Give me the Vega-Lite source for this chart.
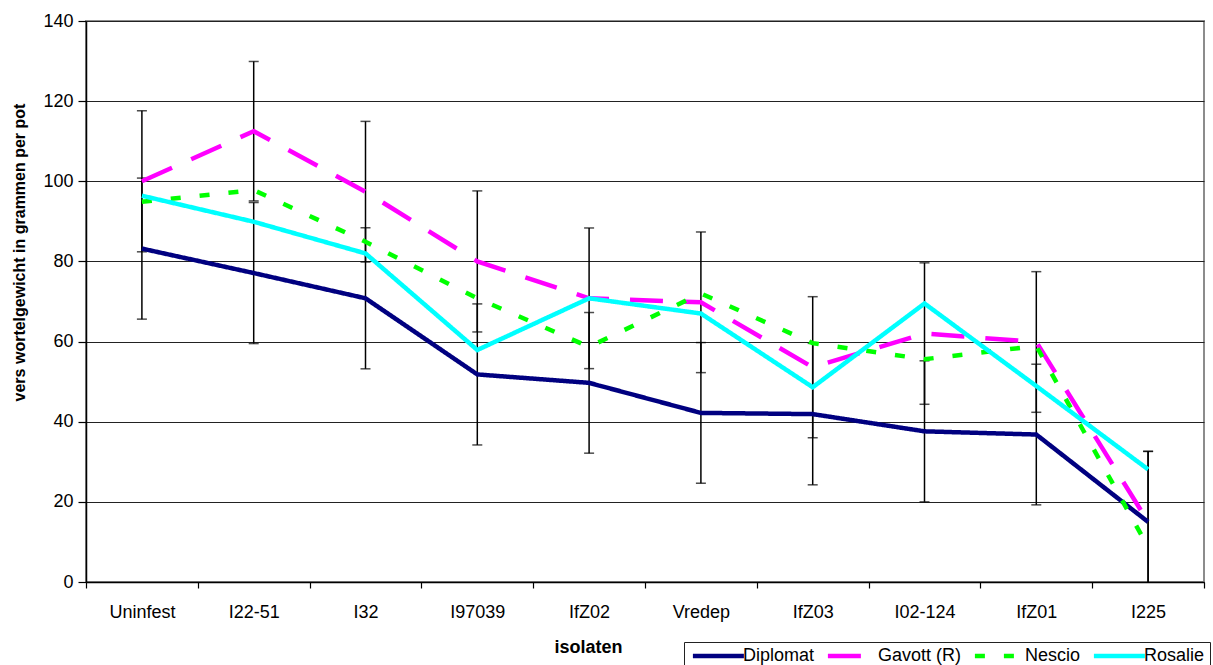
{
  "$schema": "https://vega.github.io/schema/vega-lite/v6.json",
  "autosize": {"type": "none"},
  "padding": {"left": 86, "top": 21, "right": 9, "bottom": 83},
  "width": 1118,
  "height": 561,
  "background": "white",
  "config": {
    "font": "Liberation Sans",
    "view": {"stroke": "#8c8c8c", "strokeWidth": 2},
    "axis": {"labelFont": "Liberation Sans", "titleFont": "Liberation Sans", "labelColor": "black", "titleColor": "black", "domainColor": "black", "tickColor": "black", "domainWidth": 1.5, "tickWidth": 1.2}
  },
  "data": {
    "values": [
      {"isolaat": "Uninfest", "ras": "Diplomat", "gewicht": 83.2, "sd": 17.6},
      {"isolaat": "I22-51", "ras": "Diplomat", "gewicht": 77.1, "sd": 17.6},
      {"isolaat": "I32", "ras": "Diplomat", "gewicht": 70.8, "sd": 17.6},
      {"isolaat": "I97039", "ras": "Diplomat", "gewicht": 51.8, "sd": 17.6},
      {"isolaat": "IfZ02", "ras": "Diplomat", "gewicht": 49.7, "sd": 17.55},
      {"isolaat": "Vredep", "ras": "Diplomat", "gewicht": 42.2, "sd": 17.55},
      {"isolaat": "IfZ03", "ras": "Diplomat", "gewicht": 41.9, "sd": 17.65},
      {"isolaat": "I02-124", "ras": "Diplomat", "gewicht": 37.6, "sd": 17.6},
      {"isolaat": "IfZ01", "ras": "Diplomat", "gewicht": 36.8, "sd": 17.55},
      {"isolaat": "I225", "ras": "Diplomat", "gewicht": 15.0, "sd": 17.6},
      {"isolaat": "Uninfest", "ras": "Gavott (R)", "gewicht": 100.0, "sd": 17.6},
      {"isolaat": "I22-51", "ras": "Gavott (R)", "gewicht": 112.5, "sd": 17.4},
      {"isolaat": "I32", "ras": "Gavott (R)", "gewicht": 97.4, "sd": 17.55},
      {"isolaat": "I97039", "ras": "Gavott (R)", "gewicht": 80.0, "sd": 17.6},
      {"isolaat": "IfZ02", "ras": "Gavott (R)", "gewicht": 70.8, "sd": 17.55},
      {"isolaat": "Vredep", "ras": "Gavott (R)", "gewicht": 69.8, "sd": 17.55},
      {"isolaat": "IfZ03", "ras": "Gavott (R)", "gewicht": 53.6, "sd": 17.6},
      {"isolaat": "I02-124", "ras": "Gavott (R)", "gewicht": 62.0, "sd": 17.65},
      {"isolaat": "IfZ01", "ras": "Gavott (R)", "gewicht": 59.9, "sd": 17.55},
      {"isolaat": "I225", "ras": "Gavott (R)", "gewicht": 15.0, "sd": 17.6},
      {"isolaat": "Uninfest", "ras": "Nescio", "gewicht": 94.9, "sd": null},
      {"isolaat": "I22-51", "ras": "Nescio", "gewicht": 97.8, "sd": null},
      {"isolaat": "I32", "ras": "Nescio", "gewicht": 84.9, "sd": null},
      {"isolaat": "I97039", "ras": "Nescio", "gewicht": 70.8, "sd": null},
      {"isolaat": "IfZ02", "ras": "Nescio", "gewicht": 58.7, "sd": null},
      {"isolaat": "Vredep", "ras": "Nescio", "gewicht": 72.0, "sd": null},
      {"isolaat": "IfZ03", "ras": "Nescio", "gewicht": 59.6, "sd": null},
      {"isolaat": "I02-124", "ras": "Nescio", "gewicht": 55.6, "sd": null},
      {"isolaat": "IfZ01", "ras": "Nescio", "gewicht": 58.9, "sd": null},
      {"isolaat": "I225", "ras": "Nescio", "gewicht": 8.7, "sd": null},
      {"isolaat": "Uninfest", "ras": "Rosalie", "gewicht": 96.4, "sd": null},
      {"isolaat": "I22-51", "ras": "Rosalie", "gewicht": 89.9, "sd": null},
      {"isolaat": "I32", "ras": "Rosalie", "gewicht": 82.0, "sd": null},
      {"isolaat": "I97039", "ras": "Rosalie", "gewicht": 57.9, "sd": null},
      {"isolaat": "IfZ02", "ras": "Rosalie", "gewicht": 70.8, "sd": null},
      {"isolaat": "Vredep", "ras": "Rosalie", "gewicht": 67.0, "sd": null},
      {"isolaat": "IfZ03", "ras": "Rosalie", "gewicht": 48.6, "sd": null},
      {"isolaat": "I02-124", "ras": "Rosalie", "gewicht": 69.5, "sd": null},
      {"isolaat": "IfZ01", "ras": "Rosalie", "gewicht": 48.9, "sd": null},
      {"isolaat": "I225", "ras": "Rosalie", "gewicht": 28.1, "sd": null}
    ]
  },
  "encoding": {
    "x": {
      "field": "isolaat", "type": "nominal", "sort": null,
      "scale": {"paddingInner": 0, "paddingOuter": 0},
      "axis": {
        "title": "isolaten", "titleFontSize": 18, "titleFontWeight": "bold",
        "titleX": 502, "titleY": 65, "titleBaseline": "middle", "titleAlign": "center",
        "labelAngle": 0, "labelFontSize": 18, "labelPadding": 15, "tickSize": 6,
        "tickBand": "extent", "grid": false
      }
    },
    "y": {
      "field": "gewicht", "type": "quantitative",
      "scale": {"domain": [0, 140], "nice": false},
      "axis": {
        "title": "vers wortelgewicht in grammen per pot", "titleFontSize": 16, "titleFontWeight": "bold",
        "titleX": -67, "titleY": 231, "titleBaseline": "middle", "titleAlign": "center", "titleAngle": -90,
        "values": [0, 20, 40, 60, 80, 100, 120, 140],
        "labelFontSize": 18, "labelPadding": 5, "tickSize": 8,
        "grid": true, "gridColor": "#222", "gridWidth": 1
      }
    }
  },
  "layer": [
    {
      "transform": [{"filter": "datum.sd != null"}],
      "mark": {"type": "errorbar", "clip": true, "ticks": true, "size": 10, "thickness": 1.5, "color": "black"},
      "encoding": {
        "yError": {"field": "sd"},
        "detail": {"field": "ras"}
      }
    },
    {
      "mark": {"type": "line", "strokeWidth": 4.5, "strokeCap": "butt", "strokeJoin": "miter"},
      "encoding": {
        "color": {
          "field": "ras", "type": "nominal",
          "scale": {"domain": ["Diplomat", "Gavott (R)", "Nescio", "Rosalie"], "range": ["#000080", "#ff00ff", "#00ff00", "#00ffff"]},
          "legend": {
            "title": null, "orient": "none", "direction": "horizontal",
            "legendX": 598, "legendY": 621,
            "strokeColor": "#222", "padding": 5, "fillColor": "white",
            "labelFontSize": 18, "labelFont": "Liberation Sans", "labelColor": "black", "labelOffset": 36,
            "symbolType": "M-1,0H9", "symbolSize": 104, "symbolStrokeWidth": 4.5, "columnPadding": 3
          }
        },
        "strokeDash": {
          "field": "ras", "type": "nominal",
          "scale": {"domain": ["Diplomat", "Gavott (R)", "Nescio", "Rosalie"], "range": [[1, 0], [33, 21], [10, 19], [1, 0]]},
          "legend": {
            "title": null, "orient": "none", "direction": "horizontal",
            "legendX": 598, "legendY": 621,
            "strokeColor": "#222", "padding": 5, "fillColor": "white",
            "labelFontSize": 18, "labelFont": "Liberation Sans", "labelColor": "black", "labelOffset": 36,
            "symbolType": "M-1,0H9", "symbolSize": 104, "symbolStrokeWidth": 4.5, "columnPadding": 3
          }
        }
      }
    }
  ]
}
